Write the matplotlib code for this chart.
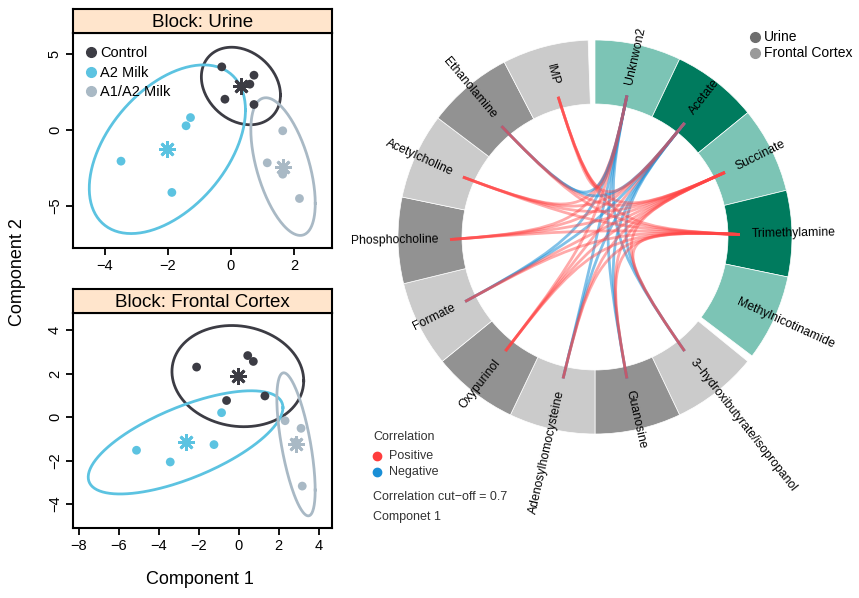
import numpy as np
import matplotlib
matplotlib.use("Agg")
import matplotlib.pyplot as plt
from matplotlib.patches import Wedge, PathPatch
from matplotlib.path import Path
from matplotlib.lines import Line2D

plt.rcParams['font.family'] = ['Liberation Sans', 'DejaVu Sans']

# ---- sample scores (component 1, component 2) ----
groups = ['Control', 'A2 Milk', 'A1/A2 Milk']
group_colors = ['#3c3c44', '#5cc3e1', '#a9b9c5']

urine_ctrl_x = [-0.29, 0.73, 0.60, -0.19, 0.73]
urine_ctrl_y = [4.17, 3.62, 3.03, 2.04, 1.69]
urine_a2_x = [-1.28, -1.42, -3.48, -1.87]
urine_a2_y = [0.83, 0.29, -2.04, -4.10]
urine_a1a2_x = [1.64, 1.15, 1.64, 2.17]
urine_a1a2_y = [-0.04, -2.15, -2.90, -4.50]

fc_ctrl_x = [-2.11, 0.45, 0.73, -0.61, 1.31]
fc_ctrl_y = [2.31, 2.84, 2.57, 0.77, 0.98]
fc_a2_x = [-5.12, -3.43, -1.24, -0.86]
fc_a2_y = [-1.52, -2.06, -1.26, 0.21]
fc_a1a2_x = [2.32, 3.12, 2.85, 3.18]
fc_a1a2_y = [-0.16, -0.51, -1.15, -3.17]

# ---- circos data ----
urine_vars = ['Unknwon2', 'Acetate', 'Succinate', 'Trimethylamine', 'Methylnicotinamide']
fc_vars = ['3\u2212hydroxibutyrate/isopropanol', 'Guanosine', 'Adenosylhomocysteine',
           'Oxypurinol', 'Formate', 'Phosphocholine', 'Acetylcholine',
           'Ethanolamine', 'IMP']
# correlation urine (rows) x frontal cortex (cols)
corr = np.array([
    [-0.78, -0.74, -0.72, 0.81, -0.71, 0.83, 0.79, -0.76, 0.85],
    [-0.82, -0.80, -0.77, 0.84, -0.79, 0.86, 0.81, -0.83, 0.78],
    [0.76, 0.73, 0.79, 0.82, 0.75, 0.85, 0.80, 0.74, 0.77],
    [0.81, 0.77, 0.83, 0.88, 0.79, 0.90, 0.84, 0.78, 0.82],
    [0.42, 0.35, 0.51, 0.48, 0.39, 0.55, 0.46, 0.31, 0.44],
])
cutoff = 0.7

fig = plt.figure(figsize=(8.59, 5.98), dpi=100)


def conf_ellipse(x, y, level_t=2.4477):
    pts = np.vstack([x, y])
    m = pts.mean(axis=1)
    cov = np.cov(pts)
    L = np.linalg.cholesky(cov)
    th = np.linspace(0, 2 * np.pi, 200)
    circ = np.vstack([np.cos(th), np.sin(th)])
    e = m[:, None] + level_t * L @ circ
    return e[0], e[1], m


def panel(rect, strip_rect, title, data, xlim, ylim, xticks, yticks, legend=False):
    ax = fig.add_axes(rect)
    for (x, y), c in zip(data, group_colors):
        ex, ey, m = conf_ellipse(x, y)
        ax.plot(ex, ey, color=c, lw=2)
    for (x, y), c, g in zip(data, group_colors, groups):
        ax.scatter(x, y, s=40, color=c, zorder=3, label=g, edgecolors='none')
        m = np.mean(x), np.mean(y)
        ax.plot(m[0], m[1], marker=(8, 2, 0), ms=12, mew=2, color=c, zorder=4)
    ax.set_xlim(xlim)
    ax.set_ylim(ylim)
    ax.set_xticks(xticks)
    ax.set_yticks(yticks)
    ax.set_xticklabels([str(t).replace('-', '\u2212') for t in xticks])
    ax.set_yticklabels([str(t).replace('-', '\u2212') for t in yticks])
    ax.tick_params(direction='out', length=5, width=1.3, labelsize=10.5, pad=3)
    plt.setp(ax.get_yticklabels(), rotation=90, va='center')
    for s in ax.spines.values():
        s.set_linewidth(1.5)
    if legend:
        h = [Line2D([], [], ls='none', marker='o', ms=7, color=c) for c in group_colors]
        ax.legend(h, groups, loc='upper left', frameon=False, fontsize=10.5,
                  handlelength=0.6, handletextpad=0.35, labelspacing=0.38,
                  borderaxespad=0.5, borderpad=0.4)
    sx = fig.add_axes(strip_rect)
    sx.set_facecolor('#ffe5cc')
    sx.set_xticks([])
    sx.set_yticks([])
    for s in sx.spines.values():
        s.set_linewidth(1.5)
    sx.text(0.5, 0.45, title, ha='center', va='center', fontsize=13.5, transform=sx.transAxes)
    return ax


W, H = 859, 598
panel([73 / W, 1 - 248 / H, 259 / W, 215 / H], [73 / W, 1 - 33 / H, 259 / W, 24 / H],
      'Block: Urine',
      [(urine_ctrl_x, urine_ctrl_y), (urine_a2_x, urine_a2_y), (urine_a1a2_x, urine_a1a2_y)],
      (-5.0, 3.2), (-7.76, 6.4), [-4, -2, 0, 2], [-5, 0, 5], legend=True)
panel([73 / W, 1 - 528 / H, 259 / W, 215 / H], [73 / W, 1 - 313 / H, 259 / W, 24 / H],
      'Block: Frontal Cortex',
      [(fc_ctrl_x, fc_ctrl_y), (fc_a2_x, fc_a2_y), (fc_a1a2_x, fc_a1a2_y)],
      (-8.3, 4.67), (-5.1, 4.8), [-8, -6, -4, -2, 0, 2, 4], [-4, -2, 0, 2, 4])

fig.text(18 / W, 1 - 272 / H, 'Component 2', rotation=90, ha='center', va='center', fontsize=13)
fig.text(200 / W, 1 - 580 / H, 'Component 1', ha='center', va='center', fontsize=13)

# ---- circos plot ----
cx = fig.add_axes([340 / W, 0, 519 / W, 1])
cx.set_xlim(340 - 595, W - 595)
cx.set_ylim(-(H - 237), 237)
cx.set_aspect('equal')
cx.axis('off')

r_out, r_in, r_end, r_lab = 197, 133, 145, 157
gap = 2.0
seg = (360 - 2 * gap) / (len(urine_vars) + len(fc_vars))
angles = {}
light_teal, dark_teal = '#7cc4b5', '#007b5e'
light_gray, dark_gray = '#cbcbcb', '#929292'
start = 90.0
for i, v in enumerate(urine_vars):
    a0 = start - i * seg
    cx.add_patch(Wedge((0, 0), r_out, a0 - seg, a0, width=r_out - r_in,
                       facecolor=light_teal if i % 2 == 0 else dark_teal,
                       edgecolor='white', lw=0.5))
    angles[v] = a0 - seg / 2
start = 90.0 - len(urine_vars) * seg - gap
for j, v in enumerate(fc_vars):
    a0 = start - j * seg
    cx.add_patch(Wedge((0, 0), r_out, a0 - seg, a0, width=r_out - r_in,
                       facecolor=light_gray if j % 2 == 0 else dark_gray,
                       edgecolor='white', lw=0.5))
    angles[v] = a0 - seg / 2


def pol(r, a, off=(0, 0)):
    return off[0] + r * np.cos(np.radians(a)), off[1] + r * np.sin(np.radians(a))


c_r = 12
hub = (4, 8)
for i, u in enumerate(urine_vars):
    for j, f in enumerate(fc_vars):
        v = corr[i, j]
        if abs(v) < cutoff:
            continue
        col, al = ('#ff4444', 0.45) if v > 0 else ('#1a8fd6', 0.55)
        a, b = angles[u], angles[f]
        verts = [pol(r_end, a), pol(c_r, a, hub), pol(c_r, b, hub), pol(r_end, b)]
        p = Path(verts, [Path.MOVETO, Path.CURVE4, Path.CURVE4, Path.CURVE4])
        cx.add_patch(PathPatch(p, facecolor='none', edgecolor=col, lw=2.0, alpha=al))

for v, a in angles.items():
    x, y = pol(r_lab, a)
    if np.cos(np.radians(a)) >= 0:
        cx.text(x, y, v, rotation=a, ha='left', va='center', rotation_mode='anchor', fontsize=8.8)
    else:
        cx.text(x, y, v, rotation=a - 180, ha='right', va='center', rotation_mode='anchor', fontsize=8.8)

# block legend
cx.plot(755 - 595, 237 - 37, 'o', color='#6e6e6e', ms=7)
cx.text(764 - 595, 237 - 37, 'Urine', va='center', fontsize=10)
cx.plot(755 - 595, 237 - 53, 'o', color='#9a9a9a', ms=7)
cx.text(764 - 595, 237 - 53, 'Frontal Cortex', va='center', fontsize=10)

# correlation legend
cx.text(373 - 595, 237 - 437, 'Correlation', va='center', fontsize=9, color='#333333')
cx.plot(377 - 595, 237 - 456, 'o', color='#ff3d3d', ms=6)
cx.text(389 - 595, 237 - 456, 'Positive', va='center', fontsize=9, color='#333333')
cx.plot(377 - 595, 237 - 472, 'o', color='#1a8fd6', ms=6)
cx.text(389 - 595, 237 - 472, 'Negative', va='center', fontsize=9, color='#333333')
cx.text(373 - 595, 237 - 497, 'Correlation cut\u2212off = 0.7', va='center', fontsize=9, color='#333333')
cx.text(373 - 595, 237 - 517, 'Componet 1', va='center', fontsize=9, color='#333333')

fig.savefig('out.png', dpi=100)
